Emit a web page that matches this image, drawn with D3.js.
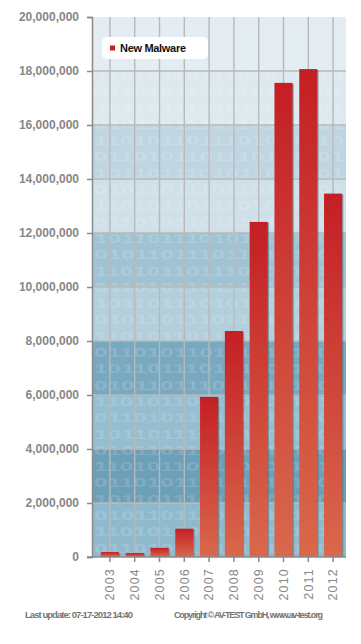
<!DOCTYPE html>
<html>
<head>
<meta charset="utf-8">
<script src="https://cdn.jsdelivr.net/npm/d3@7"></script>
<style>
body{margin:0;background:#fff;}
svg{display:block;font-family:"Liberation Sans",Arial,sans-serif;}
</style>
</head>
<body>
<svg id="chart" width="361" height="644"></svg>
<script>
// data
var years = ["2003","2004","2005","2006","2007","2008","2009","2010","2011","2012"];
var newMalware = [185000,150000,340000,1050000,5930000,8370000,12410000,17560000,18070000,13460000];
var yTicks = [0,2000000,4000000,6000000,8000000,10000000,12000000,14000000,16000000,18000000,20000000];
var seriesName = "New Malware";
var lastUpdate = "Last update: 07-17-2012 14:40";
var copyright = "Copyright \u00a9 AV-TEST GmbH, www.av-test.org";
var bits = ["0110101101110101101","1011011101011011101","0101101110110101101","1101011011101011010"];

// background band colours, bottom to top (one per 2,000,000)
var bandColors = ["#8fbacd","#6c9fb8","#95bed0","#79a9c0","#b3cfdc","#a0c3d3","#d0e0e8","#bfd6e2","#dde9ef","#e3edf2"];

var plotL = 92, plotR = 346, plotT = 17, plotB = 557;

var svgObj = d3.select("#chart");

var x = d3.scaleBand().domain(years).range([97.5, 345.5]).paddingInner(0.27).paddingOuter(0.135);
var y = d3.scaleLinear().domain([0, 20000000]).range([plotB, plotT]);

var defs = svgObj.append("defs");
var grad = defs.append("linearGradient").attr("id","barGrad")
	.attr("x1",0).attr("y1",0).attr("x2",0).attr("y2",1);
grad.append("stop").attr("offset","0%").attr("stop-color","#c41f25");
grad.append("stop").attr("offset","100%").attr("stop-color","#d9684c");

// background bands
svgObj.append("g").selectAll("rect")
	.data(yTicks.slice(0,-1))
	.enter()
	.append("rect")
	.attr("x",plotL)
	.attr("y",function(d){ return y(d+2000000); })
	.attr("width",plotR-plotL)
	.attr("height",function(d){ return y(d)-y(d+2000000); })
	.attr("fill",function(d,i){ return bandColors[i]; });

// binary watermark (rows kept apart and inside the plot)
var rows = [];
for(var r = 0; r < 33; r++){
	var ry = plotT + 14 + r*16.3;
	if(ry > 30 && ry < 66){ continue; }//leave the legend free
	rows.push({y:ry, t:bits[r%4]});
}
svgObj.append("g").attr("font-size",12).attr("font-weight","bold").attr("fill","#ffffff").attr("opacity",0.14)
	.selectAll("text")
	.data(rows)
	.enter()
	.append("text")
	.attr("x",plotL+2)
	.attr("y",function(d){ return d.y; })
	.attr("textLength",plotR-plotL-4)
	.attr("lengthAdjust","spacingAndGlyphs")
	.text(function(d){ return d.t; });

// grid
var grid = svgObj.append("g").attr("stroke","#b9b9b9").attr("stroke-width",1.4);
grid.selectAll("line.h")
	.data(yTicks.slice(1,-1))
	.enter()
	.append("line")
	.attr("x1",plotL).attr("x2",plotR)
	.attr("y1",function(d){ return y(d); }).attr("y2",function(d){ return y(d); });
grid.selectAll("line.v")
	.data(years)
	.enter()
	.append("line")
	.attr("x1",function(d){ return x(d)+x.bandwidth()/2; })
	.attr("x2",function(d){ return x(d)+x.bandwidth()/2; })
	.attr("y1",plotT).attr("y2",plotB);

// bars
var bars = svgObj.append("g");
bars.selectAll("rect.shadow")
	.data(newMalware)
	.enter()
	.append("rect")
	.attr("x",function(d,i){ return x(years[i])+1.2; })
	.attr("y",function(d){ return y(d)+1; })
	.attr("width",x.bandwidth())
	.attr("height",function(d){ return plotB-y(d)-1; })
	.attr("fill","#4d6470").attr("opacity",0.55);
bars.selectAll("rect.bar")
	.data(newMalware)
	.enter()
	.append("rect")
	.attr("x",function(d,i){ return x(years[i]); })
	.attr("y",function(d){ return y(d); })
	.attr("width",x.bandwidth())
	.attr("height",function(d){ return plotB-y(d); })
	.attr("fill","url(#barGrad)");

// axes
var yAxis = svgObj.append("g").attr("transform","translate("+plotL+",0)")
	.call(d3.axisLeft(y).tickValues(yTicks).tickSize(5).tickPadding(8).tickFormat(d3.format(",")));
yAxis.select(".domain").attr("stroke","#8a8a8a").attr("stroke-width",1.5);
yAxis.selectAll(".tick line").attr("stroke","#8a8a8a").attr("stroke-width",1.5);
yAxis.selectAll(".tick text").attr("fill","#878787").attr("font-size",12).attr("font-weight","bold")
	.attr("font-family","'Liberation Sans',Arial,sans-serif");

var xAxis = svgObj.append("g").attr("transform","translate(0,"+plotB+")")
	.call(d3.axisBottom(x).tickSize(5).tickSizeOuter(0));
xAxis.select(".domain").attr("stroke","#8a8a8a").attr("stroke-width",1.5).attr("d","M"+(plotL-5)+",0H"+plotR);
xAxis.selectAll(".tick line").attr("stroke","#8a8a8a").attr("stroke-width",1.5);
xAxis.selectAll(".tick text")
	.attr("fill","#878787").attr("font-size",12.5).attr("letter-spacing","1.2px")
	.attr("font-family","'Liberation Sans',Arial,sans-serif")
	.attr("transform","rotate(-90)")
	.attr("text-anchor","end")
	.attr("x",-11).attr("y",0).attr("dy","0.35em");

// legend
var lg = svgObj.append("g");
lg.append("rect").attr("x",102).attr("y",37).attr("width",106).attr("height",22).attr("rx",5)
	.attr("fill","#ffffff");
lg.append("rect").attr("x",110).attr("y",45.5).attr("width",5).attr("height",5).attr("fill","#c41f25");
lg.append("text").attr("x",120).attr("y",52).attr("font-size",11).attr("font-weight","bold")
	.attr("fill","#111").attr("font-family","'Liberation Sans Narrow','Liberation Sans',Arial,sans-serif")
	.attr("textLength",66).text(seriesName);

// footer
svgObj.append("text").attr("x",25).attr("y",618).attr("font-size",9.5).attr("font-weight","bold")
	.attr("fill","#747474").attr("textLength",108).text(lastUpdate);
svgObj.append("text").attr("x",174).attr("y",618).attr("font-size",9).attr("font-weight","bold")
	.attr("fill","#747474").attr("textLength",149).text(copyright);
</script>
</body>
</html>
